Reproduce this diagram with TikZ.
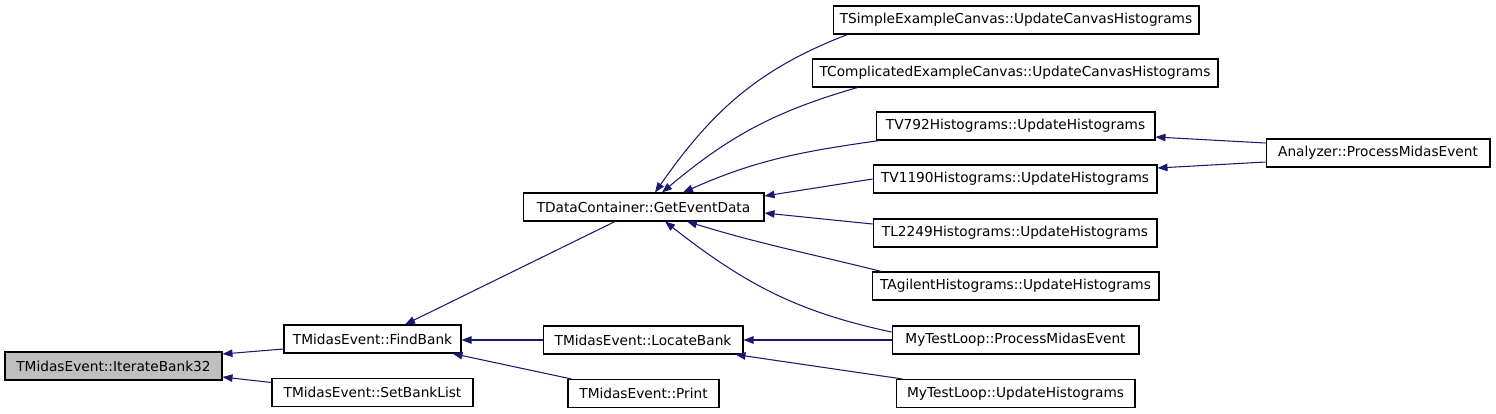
\documentclass[tikz,border=0pt]{standalone}
\usepackage{fontspec}
\setmainfont{DejaVu Sans}
\usetikzlibrary{arrows.meta,calc}
\definecolor{edgeblue}{RGB}{25,25,112}
\definecolor{rootgray}{RGB}{191,191,191}

\begin{document}
\begin{tikzpicture}[
  x=0.02cm, y=-0.02cm,
  fn/.style={draw, rectangle, minimum height=0.56cm, inner sep=0pt, line width=0.6pt,
    font=\fontsize{7.8}{9}\selectfont},
  call/.style={draw=edgeblue, line width=0.6pt},
  >={Triangle[length=0.2cm, width=0.15cm]}
]
  \useasboundingbox (0,0) rectangle (1496,413);

  % callee on the left, callers to the right
  \node[fn, fill=rootgray, minimum width=4.34cm] (iter) at (113.5,366) {TMidasEvent::IterateBank32};
  \node[fn, minimum width=3.54cm] (find) at (372.5,339) {TMidasEvent::FindBank};
  \node[fn, minimum width=4.02cm] (setlist) at (372.5,392.5) {TMidasEvent::SetBankList};
  \node[fn, minimum width=4.82cm] (getdata) at (643.5,207) {TDataContainer::GetEventData};
  \node[fn, minimum width=4.0cm] (locate) at (643,340) {TMidasEvent::LocateBank};
  \node[fn, minimum width=3.02cm] (print) at (643.5,393.5) {TMidasEvent::Print};

  \node[fn, minimum width=7.32cm] (simple) at (1016,20) {TSimpleExampleCanvas::UpdateCanvasHistograms};
  \node[fn, minimum width=8.12cm] (complic) at (1015,73) {TComplicatedExampleCanvas::UpdateCanvasHistograms};
  \node[fn, minimum width=5.58cm] (v792) at (1015.5,126) {TV792Histograms::UpdateHistograms};
  \node[fn, minimum width=5.68cm] (v1190) at (1015,179) {TV1190Histograms::UpdateHistograms};
  \node[fn, minimum width=5.68cm] (l2249) at (1015,233) {TL2249Histograms::UpdateHistograms};
  \node[fn, minimum width=5.74cm] (agilent) at (1015.5,286) {TAgilentHistograms::UpdateHistograms};
  \node[fn, minimum width=4.94cm] (looppme) at (1015.5,340) {MyTestLoop::ProcessMidasEvent};
  \node[fn, minimum width=4.78cm] (loopuh) at (1015.5,393.5) {MyTestLoop::UpdateHistograms};
  \node[fn, minimum width=4.48cm] (analyzer) at (1378,153) {Analyzer::ProcessMidasEvent};

  % calls into IterateBank32 / FindBank / LocateBank
  \draw[call, ->] ($(find.west)+(0,10)$) -- ($(iter.east)+(0,-12)$);
  \draw[call, ->] ($(setlist.west)+(0,-10)$) -- ($(iter.east)+(0,11)$);
  \draw[call, ->] ($(getdata.south)+(-28.5,0)$) -- ($(find.north)+(32.5,0)$);
  \draw[call, ->] (locate.west) -- (find.east |- locate.west);
  \draw[call, ->] ($(print.north west)+(4,0)$) -- ($(find.south east)+(-9,0)$);
  \draw[call, ->] (looppme.west) -- (locate.east);
  \draw[call, ->] ($(loopuh.north west)+(7,0)$) -- ($(locate.south east)+(-8,0)$);

  % calls into GetEventData
  \draw[call, ->] ($(simple.south west)+(15,0)$) to[out=201, in=55] ($(getdata.north)+(11.5,0)$);
  \draw[call, ->] ($(complic.south west)+(46,0)$) to[out=196, in=40] ($(getdata.north)+(18.5,0)$);
  \draw[call, ->] ($(v792.south west)+(4,0)$) to[out=188, in=24] ($(getdata.north)+(39.5,0)$);
  \draw[call, ->] (v1190.west) -- ($(getdata.east)+(0,-11)$);
  \draw[call, ->] ($(l2249.west)+(0,-9)$) -- ($(getdata.east)+(0,6)$);
  \draw[call, ->] ($(agilent.north west)+(10,0)$) to[out=166, in=-17] ($(getdata.south)+(43.5,0)$);
  \draw[call, ->] ($(looppme.west)+(0,-8)$) to[out=168, in=-38] ($(getdata.south)+(21.5,0)$);

  % Analyzer
  \draw[call, ->] ($(analyzer.west)+(0,-10)$) -- ($(v792.east)+(0,11)$);
  \draw[call, ->] ($(analyzer.west)+(0,9)$) -- ($(v1190.east)+(0,-11)$);
\end{tikzpicture}
\end{document}
